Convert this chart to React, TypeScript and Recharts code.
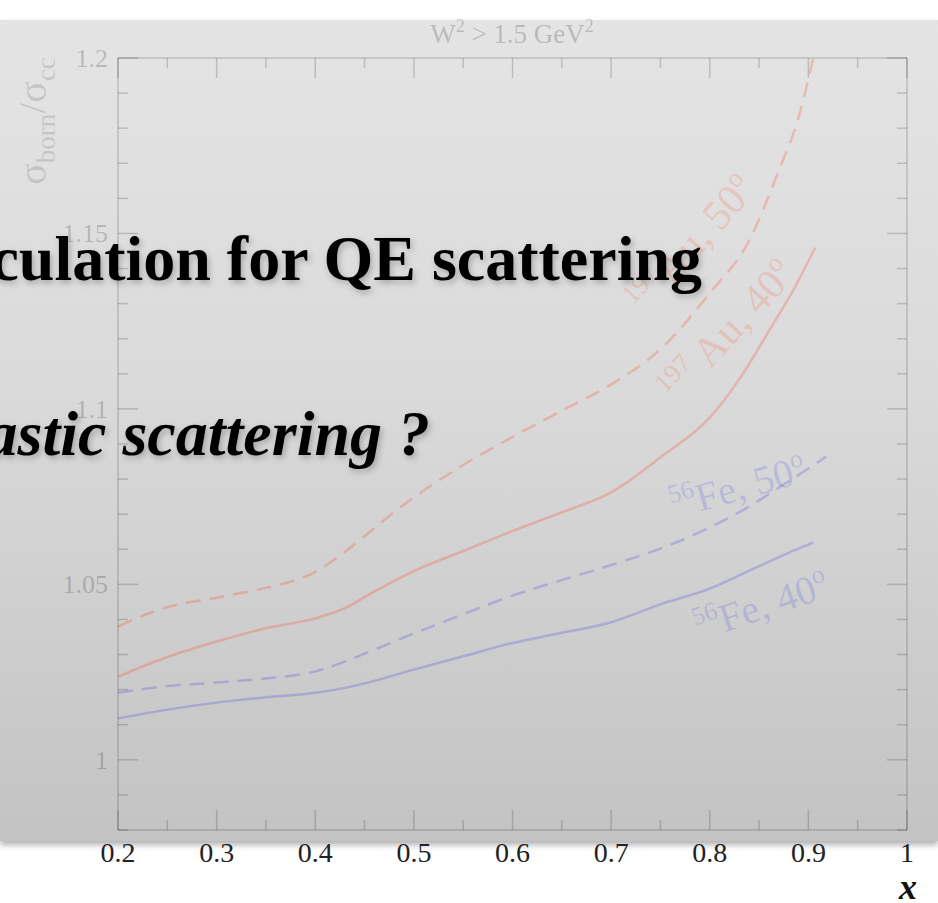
import { LineChart, Line, XAxis, YAxis } from "recharts";

// 197Au, 50 deg (dashed)
const au50X = [0.2, 0.25, 0.3, 0.35, 0.38, 0.4, 0.425, 0.45, 0.475, 0.5, 0.55, 0.6, 0.65, 0.7, 0.75, 0.8, 0.84, 0.87, 0.89, 0.905];
const au50Y = [1.038, 1.0435, 1.0462, 1.049, 1.0512, 1.0535, 1.0582, 1.0637, 1.0695, 1.0748, 1.084, 1.092, 1.0995, 1.107, 1.117, 1.133, 1.148, 1.168, 1.183, 1.2];

// 197Au, 40 deg (solid)
const au40X = [0.2, 0.25, 0.3, 0.35, 0.4, 0.43, 0.46, 0.5, 0.55, 0.6, 0.65, 0.7, 0.75, 0.8, 0.83, 0.86, 0.885, 0.907];
const au40Y = [1.0237, 1.0293, 1.0337, 1.0375, 1.0403, 1.0432, 1.048, 1.0538, 1.0595, 1.0652, 1.0705, 1.0762, 1.0862, 1.0975, 1.1085, 1.1222, 1.134, 1.146];

// 56Fe, 50 deg (dashed)
const fe50X = [0.2, 0.25, 0.3, 0.35, 0.4, 0.43, 0.46, 0.5, 0.55, 0.6, 0.65, 0.7, 0.75, 0.8, 0.84, 0.87, 0.9, 0.918];
const fe50Y = [1.0191, 1.021, 1.022, 1.0232, 1.0252, 1.028, 1.0314, 1.036, 1.0415, 1.0468, 1.0512, 1.0555, 1.0602, 1.0662, 1.0722, 1.0776, 1.083, 1.0864];

// 56Fe, 40 deg (solid)
const fe40X = [0.2, 0.25, 0.3, 0.35, 0.4, 0.43, 0.46, 0.5, 0.55, 0.6, 0.65, 0.7, 0.75, 0.8, 0.85, 0.88, 0.905];
const fe40Y = [1.0118, 1.0143, 1.0163, 1.0178, 1.0191, 1.0205, 1.0225, 1.0257, 1.0295, 1.0333, 1.0362, 1.0392, 1.0443, 1.0488, 1.0552, 1.059, 1.0619];

const xTicks = [0.2, 0.25, 0.3, 0.35, 0.4, 0.45, 0.5, 0.55, 0.6, 0.65, 0.7, 0.75, 0.8, 0.85, 0.9, 0.95, 1];
const yTicks = [0.98, 0.99, 1, 1.01, 1.02, 1.03, 1.04, 1.05, 1.06, 1.07, 1.08, 1.09, 1.1, 1.11, 1.12, 1.13, 1.14, 1.15, 1.16, 1.17, 1.18, 1.19, 1.2];

const zip = (xs: number[], ys: number[]) => xs.map((x, i) => ({ x, y: ys[i] }));

const serif = '"Liberation Serif", "Times New Roman", serif';
const axisCol = "rgba(0,0,0,0.17)";
const labelCol = "rgba(0,0,0,0.2)";
const red = "rgba(255,60,20,0.24)";
const blue = "rgba(30,30,230,0.2)";
const redText = "rgba(255,60,20,0.18)";
const blueText = "rgba(30,30,230,0.16)";

const isMajorX = (v: number) => Math.round(v * 100) % 10 === 0;
const isMajorY = (v: number) => Math.round(v * 100) % 5 === 0;

const BottomTick = (props: any) => {
  const { x, y, payload } = props;
  const major = isMajorX(payload.value);
  return (
    <g>
      <line x1={x} y1={y} x2={x} y2={y - (major ? 20 : 10)} stroke={axisCol} strokeWidth={1.5} />
      {major && (
        <text x={x} y={y + 32} textAnchor="middle" fontFamily={serif} fontSize={28} fill="#222">
          {String(payload.value)}
        </text>
      )}
    </g>
  );
};

const TopTick = (props: any) => {
  const { x, y, payload } = props;
  const major = isMajorX(payload.value);
  return <line x1={x} y1={y} x2={x} y2={y + (major ? 20 : 10)} stroke={axisCol} strokeWidth={1.5} />;
};

const LeftTick = (props: any) => {
  const { x, y, payload } = props;
  const major = isMajorY(payload.value);
  return (
    <g>
      <line x1={x} y1={y} x2={x + (major ? 20 : 10)} y2={y} stroke={axisCol} strokeWidth={1.5} />
      {major && (
        <text x={x - 10} y={y + 9} textAnchor="end" fontFamily={serif} fontSize={26} fill={labelCol}>
          {String(payload.value)}
        </text>
      )}
    </g>
  );
};

const RightTick = (props: any) => {
  const { x, y, payload } = props;
  const major = isMajorY(payload.value);
  return <line x1={x} y1={y} x2={x - (major ? 20 : 10)} y2={y} stroke={axisCol} strokeWidth={1.5} />;
};

export default function App() {
  return (
    <div style={{ position: "absolute", left: 0, top: 0, width: 938, height: 903, overflow: "hidden", background: "#fff" }}>
      <div
        style={{
          position: "absolute",
          left: 0,
          top: 20,
          width: 938,
          height: 821,
          background: "linear-gradient(to bottom, #e4e4e4 0%, #dadada 45%, #c3c3c3 100%)",
          boxShadow: "0 4px 6px rgba(0,0,0,0.3)",
        }}
      />
      <div style={{ position: "absolute", left: 0, top: 0 }}>
        <LineChart width={938} height={903} margin={{ top: 57, right: 30, bottom: 72, left: 117 }}>
          <XAxis
            type="number"
            dataKey="x"
            domain={[0.2, 1]}
            allowDataOverflow
            ticks={xTicks}
            interval={0}
            height={1}
            tickSize={0}
            tickMargin={0}
            axisLine={{ stroke: axisCol, strokeWidth: 1.5 }}
            tick={<BottomTick />}
          />
          <XAxis
            xAxisId="top"
            orientation="top"
            type="number"
            dataKey="x"
            domain={[0.2, 1]}
            allowDataOverflow
            ticks={xTicks}
            interval={0}
            height={1}
            tickSize={0}
            tickMargin={0}
            axisLine={{ stroke: axisCol, strokeWidth: 1.5 }}
            tick={<TopTick />}
          />
          <YAxis
            type="number"
            domain={[0.98, 1.2]}
            allowDataOverflow
            ticks={yTicks}
            interval={0}
            width={1}
            tickSize={0}
            tickMargin={0}
            axisLine={{ stroke: axisCol, strokeWidth: 1.5 }}
            tick={<LeftTick />}
          />
          <YAxis
            yAxisId="right"
            orientation="right"
            type="number"
            domain={[0.98, 1.2]}
            allowDataOverflow
            ticks={yTicks}
            interval={0}
            width={1}
            tickSize={0}
            tickMargin={0}
            axisLine={{ stroke: axisCol, strokeWidth: 1.5 }}
            tick={<RightTick />}
          />
          <Line data={zip(au50X, au50Y)} dataKey="y" type="monotone" stroke={red} strokeWidth={2.5} strokeDasharray="15 9" dot={false} isAnimationActive={false} />
          <Line data={zip(au40X, au40Y)} dataKey="y" type="monotone" stroke={red} strokeWidth={2.5} dot={false} isAnimationActive={false} />
          <Line data={zip(fe50X, fe50Y)} dataKey="y" type="monotone" stroke={blue} strokeWidth={2.5} strokeDasharray="15 9" dot={false} isAnimationActive={false} />
          <Line data={zip(fe40X, fe40Y)} dataKey="y" type="monotone" stroke={blue} strokeWidth={2.5} dot={false} isAnimationActive={false} />
        </LineChart>
      </div>
      <svg width={938} height={903} style={{ position: "absolute", left: 0, top: 0, pointerEvents: "none" }}>
        <defs>
          <filter id="shadow" x="-10%" y="-20%" width="120%" height="150%">
            <feDropShadow dx={2} dy={3} stdDeviation={3} floodColor="#000" floodOpacity={0.25} />
          </filter>
        </defs>
        <text x={512} y={43} textAnchor="middle" fontFamily={serif} fontSize={27} fill="rgba(0,0,0,0.2)">
          W<tspan dy={-11} fontSize={18}>2</tspan>
          <tspan dy={11}> &gt; 1.5 GeV</tspan>
          <tspan dy={-11} fontSize={18}>2</tspan>
        </text>
        <text transform="translate(46,121) rotate(-90)" textAnchor="middle" fontFamily={serif} fontSize={40} fill="rgba(0,0,0,0.13)">
          σ<tspan dy={9} fontSize={27}>born</tspan>
          <tspan dy={-9}>/σ</tspan>
          <tspan dy={9} fontSize={27}>cc</tspan>
        </text>
        <text x={917} y={899} textAnchor="end" fontFamily={serif} fontSize={36} fontWeight="bold" fontStyle="italic" fill="#111">
          x
        </text>
        <text transform="translate(645,316) rotate(-48)" fontFamily={serif} fontSize={42} fill={redText}>
          <tspan dy={-16} fontSize={27}>197</tspan>
          <tspan dy={16}>Au, 50</tspan>
          <tspan dy={-17} fontSize={27}>o</tspan>
        </text>
        <text transform="translate(677,405) rotate(-47)" fontFamily={serif} fontSize={42} fill={redText}>
          <tspan dy={-16} fontSize={27}>197</tspan>
          <tspan dy={16}> Au, 40</tspan>
          <tspan dy={-17} fontSize={27}>o</tspan>
        </text>
        <text transform="translate(675,519) rotate(-16)" fontFamily={serif} fontSize={40} fill={blueText}>
          <tspan dy={-16} fontSize={26}>56</tspan>
          <tspan dy={16}>Fe, 50</tspan>
          <tspan dy={-16} fontSize={26}>o</tspan>
        </text>
        <text transform="translate(700,641) rotate(-19)" fontFamily={serif} fontSize={40} fill={blueText}>
          <tspan dy={-16} fontSize={26}>56</tspan>
          <tspan dy={16}>Fe, 40</tspan>
          <tspan dy={-16} fontSize={26}>o</tspan>
        </text>
        <g filter="url(#shadow)">
          <text x={702} y={280} textAnchor="end" fontFamily={serif} fontSize={64} fontWeight="bold" fill="#000">
            culation for QE scattering
          </text>
          <text x={430} y={455} textAnchor="end" fontFamily={serif} fontSize={64} fontWeight="bold" fontStyle="italic" fill="#000">
            astic scattering ?
          </text>
        </g>
      </svg>
    </div>
  );
}
